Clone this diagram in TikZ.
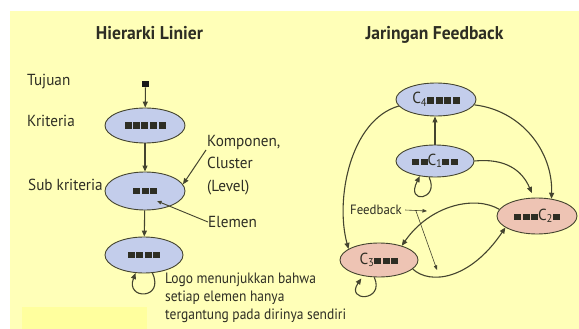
\documentclass[tikz,border=0pt]{standalone}
\usepackage{fontspec}
\setmainfont[FakeStretch=0.95]{PT Sans}
\newfontfamily\logofont[FakeStretch=0.9]{PT Sans}
\usetikzlibrary{arrows.meta,shapes.geometric}
\definecolor{bgY}{HTML}{FFFFB8}
\definecolor{bgYb}{HTML}{FFFF9E}
\definecolor{blueF}{HTML}{C3CDEB}
\definecolor{pinkF}{HTML}{EEC4B4}
\definecolor{edgeC}{HTML}{44442F}
\definecolor{ink}{HTML}{2E2E24}
\newcommand\Bn[1]{\foreach \i in {1,...,#1}{\ifnum\i>1\hspace{1.5pt}\fi\rule{7pt}{6.5pt}}}
\newcommand\Cs[1]{C\textsubscript{#1}}
\begin{document}
\begin{tikzpicture}[x=1pt,y=-1pt,
  clus/.style={ellipse, draw=edgeC, line width=0.9pt, inner sep=0pt,
    font=\fontsize{16}{16}\selectfont, text=ink},
  bluec/.style={clus, fill=blueF},
  pinkc/.style={clus, fill=pinkF},
  conn/.style={draw=edgeC, line width=1.1pt, -{Triangle[length=6pt,width=5pt]}},
  thin/.style={draw=edgeC, line width=0.6pt, -{Triangle[length=4.5pt,width=3.5pt]}},
  lbl/.style={font=\fontsize{16}{22.5}\selectfont, text=ink, anchor=west, inner sep=0pt, align=left},
  ttl/.style={font=\fontsize{18.5}{18.5}\selectfont\bfseries, text=ink, anchor=base, inner sep=0pt}]
\useasboundingbox (0,0) rectangle (579,329);
\fill[white] (0,0) rectangle (579,329);
\fill[bgY] (10,11) rectangle (579,329);
\fill[bgYb] (22,307) rectangle (147,329);

% titles
\node[ttl] (t1) at (149.5,40) {Hierarki Linier};
\node[ttl] (t2) at (434.5,40) {Jaringan Feedback};

% left hierarchy
\node[fill=black!90, minimum width=7pt, minimum height=6.5pt, inner sep=0pt] (T) at (145.5,84) {};
\node[bluec, minimum width=80pt, minimum height=35pt] (K) at (145,125.5) {\raisebox{-3pt}{\Bn{5}}};
\node[bluec, minimum width=80pt, minimum height=38pt] (S) at (145,191) {\raisebox{-1pt}{\Bn{3}}};
\node[bluec, minimum width=78pt, minimum height=36pt] (E) at (144,255) {\raisebox{-1pt}{\Bn{4}}};
\draw[conn] (T) -- (K);
\draw[conn] (K) -- (S);
\draw[conn] (S) -- (E);
\draw[conn] (E.-65) .. controls (165,300) and (125,300) .. (E.-115);

\node[lbl] (tuj) at (27,82) {Tujuan};
\node[lbl] (kri) at (27,121) {Kriteria};
\node[lbl] (sub) at (28,185) {Sub kriteria};
\node[lbl, anchor=north west] (komp) at (207,135) {Komponen,\\Cluster\\(Level)};
\node[lbl] (elm) at (208,222) {Elemen};
\node[lbl, anchor=north west, font=\fontsize{15}{18}\logofont] (logo) at (165,273)
  {Logo menunjukkan bahwa\\setiap elemen hanya\\tergantung pada dirinya sendiri};
\coordinate (kp) at (206,150);
\draw[conn, line width=1pt] (kp) -- (S.10);
\coordinate (elTip) at (157,201);
\draw[thin, line width=0.9pt] (elm.west) -- (elTip);

% right network
\node[bluec, minimum width=80pt, minimum height=33pt] (C4) at (436,99.5) {\Cs{4}\Bn{4}};
\node[bluec, minimum width=78pt, minimum height=32pt] (C1) at (435,161) {\Bn{2}\Cs{1}\Bn{2}};
\node[pinkc, minimum width=80pt, minimum height=36pt] (C2) at (537,216) {\Bn{3}\Cs{2}\Bn{1}};
\node[pinkc, minimum width=78pt, minimum height=34pt] (C3) at (379,260) {\Cs{3}\Bn{3}};

\draw[conn] (C1.north) -- (C1.north |- C4.south);
\draw[conn] (C4.190) .. controls (350,120) and (335,200) .. (C3.160);
\draw[conn] (C4.-8) .. controls (520,110) and (553,150) .. (C2.50);
\draw[conn, shorten >=5pt] (C1.0) .. controls (505,158) and (522,170) .. (C2.100);
\draw[conn] (C2.170) .. controls (475,195) and (430,205) .. (C3.32);
\draw[conn] (C3.-15) .. controls (430,285) and (470,280) .. (C2.-160);
\draw[conn] (C1.-110) .. controls (440,200) and (405,205) .. (C1.-135);
\draw[conn, shorten >=3pt] (C3.-105) .. controls (385,302) and (345,302) .. (C3.-135);

\node[lbl, font=\fontsize{13.5}{14}\selectfont] (fb) at (350,210) {Feedback};
\coordinate (fbA) at (427,211);
\coordinate (fbJ) at (416,211);
\coordinate (fbB) at (437,270);
\draw[thin] (fb.east) ++(3,0) -- (fbA);
\draw[thin] (fbJ) -- (fbB);
\end{tikzpicture}
\end{document}
